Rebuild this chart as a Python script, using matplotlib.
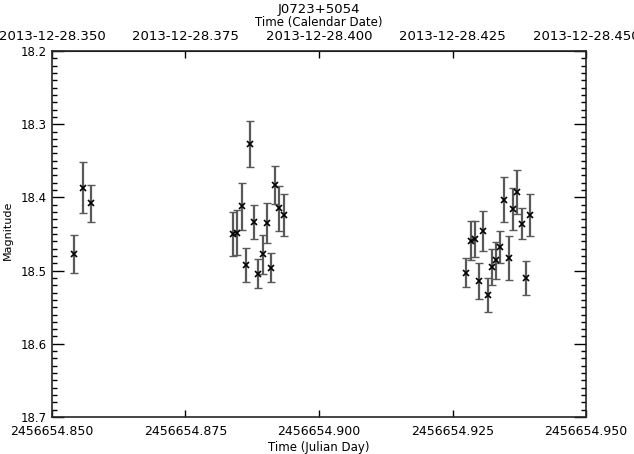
import matplotlib
matplotlib.use('Agg')
import matplotlib.pyplot as plt
from matplotlib.ticker import MultipleLocator
import numpy as np

jd0 = 2456654.0
jd_frac = [0.85418, 0.85581, 0.85730,
           0.88395, 0.88464, 0.88552, 0.88633, 0.88708, 0.88788, 0.88863,
           0.88946, 0.89021, 0.89101, 0.89176, 0.89257, 0.89339,
           0.92758, 0.92841, 0.92921, 0.93002, 0.93077, 0.93159, 0.93234,
           0.93309, 0.93390, 0.93470, 0.93552, 0.93627, 0.93713, 0.93796,
           0.93876, 0.93951]
mag = [18.477, 18.387, 18.408,
       18.450, 18.448, 18.412, 18.492, 18.327, 18.434, 18.504,
       18.478, 18.435, 18.496, 18.383, 18.415, 18.424,
       18.503, 18.459, 18.457, 18.514, 18.446, 18.533, 18.495,
       18.486, 18.468, 18.403, 18.483, 18.416, 18.393, 18.436,
       18.510, 18.424]
mag_err = [0.026, 0.035, 0.025,
           0.030, 0.031, 0.032, 0.023, 0.031, 0.023, 0.020,
           0.027, 0.027, 0.020, 0.026, 0.031, 0.029,
           0.020, 0.027, 0.025, 0.025, 0.027, 0.023, 0.025,
           0.025, 0.022, 0.031, 0.030, 0.029, 0.030, 0.021,
           0.023, 0.029]

tick_frac = [0.850, 0.875, 0.900, 0.925, 0.950]
jd_labels = ['2456654.850', '2456654.875', '2456654.900', '2456654.925', '2456654.950']
cal_labels = ['2013-12-28.350', '2013-12-28.375', '2013-12-28.400', '2013-12-28.425', '2013-12-28.450']

jd = jd0 + np.array(jd_frac)
ticks = jd0 + np.array(tick_frac)

fs = 8.5
fig = plt.figure(figsize=(6.34, 4.54), dpi=100)
ax = fig.add_axes([0.0820, 0.0815, 0.8423, 0.8062])

ax.errorbar(jd, mag, yerr=mag_err, fmt='none', ecolor='0.35', elinewidth=1.6,
            capsize=3, capthick=1.0)
ax.plot(jd, mag, 'x', color='black', markersize=4.5, markeredgewidth=1.2)

ax.set_xlim(ticks[0], ticks[-1])
ax.set_ylim(18.7, 18.2)

ax.set_xticks(ticks, labels=jd_labels)
ax.yaxis.set_major_locator(MultipleLocator(0.1))
ax.yaxis.set_minor_locator(MultipleLocator(0.01))
ax.yaxis.set_major_formatter(plt.FormatStrFormatter('%.1f'))
ax.tick_params(axis='x', which='major', direction='in', length=5, width=1, pad=6,
               labelsize=9, top=False)
ax.tick_params(axis='y', which='major', direction='in', length=8.5, width=1, pad=4,
               labelsize=fs, right=True)
ax.tick_params(axis='y', which='minor', direction='in', length=3.6, width=1, right=True)
for s in ax.spines.values():
    s.set_linewidth(1.2)
    s.set_color('0.15')

sec = ax.secondary_xaxis('top')
sec.set_xticks(ticks, labels=cal_labels)
sec.tick_params(direction='in', length=5, width=1, pad=6, labelsize=9.5)

ax.text(-0.083, 0.51, 'Magnitude', transform=ax.transAxes, ha='center',
        va='center', rotation=90, fontsize=8)
ax.text(0.5, -0.082, 'Time (Julian Day)', transform=ax.transAxes, ha='center',
        va='center', fontsize=fs)
ax.text(0.5, 1.079, 'Time (Calendar Date)', transform=ax.transAxes, ha='center',
        va='center', fontsize=fs)
ax.text(0.5, 1.113, 'J0723+5054', transform=ax.transAxes, ha='center',
        va='center', fontsize=9.5)

fig.savefig('out.png', dpi=100)
